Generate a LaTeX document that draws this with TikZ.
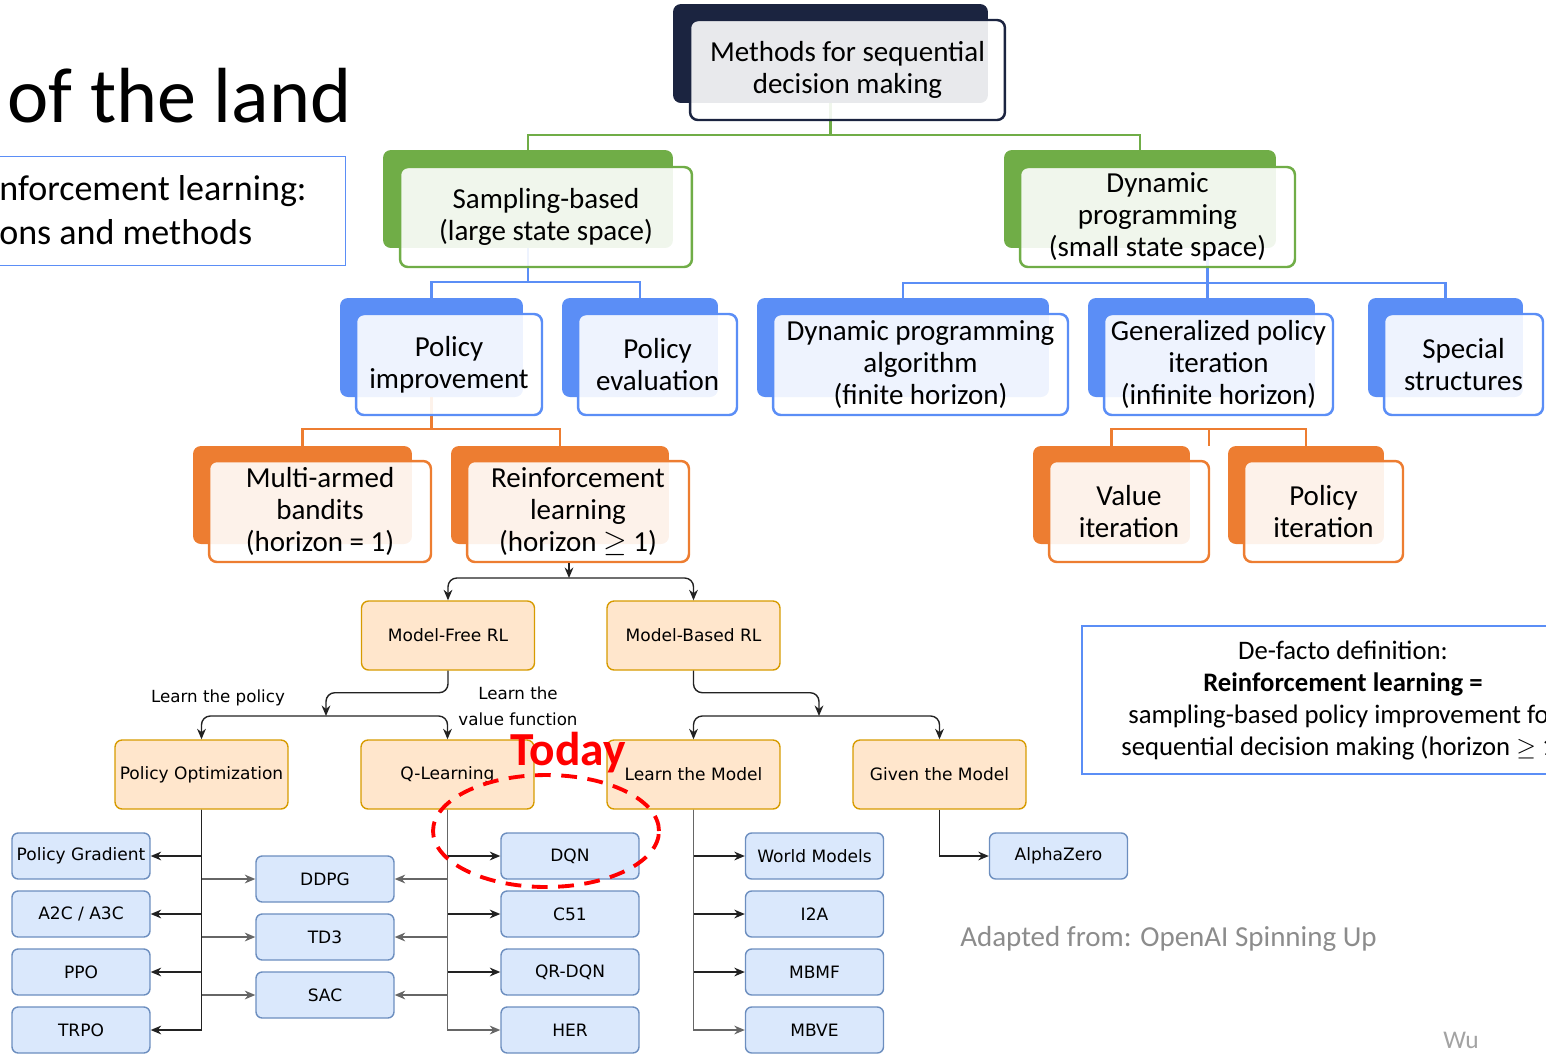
\documentclass[tikz,border=0pt]{standalone}
\usepackage{fontspec}
\setmainfont{Carlito}
\newfontfamily\drawfont{DejaVu Sans}
\usetikzlibrary{arrows.meta, positioning, calc, shapes.geometric}

\definecolor{navydark}{HTML}{1B2440}
\definecolor{treegreen}{HTML}{70AD47}
\definecolor{treeblue}{HTML}{5B8EF6}
\definecolor{treeorange}{HTML}{ED7D31}
\definecolor{rlfill}{HTML}{FFE6CC}
\definecolor{rlline}{HTML}{D79B00}
\definecolor{algofill}{HTML}{DAE8FC}
\definecolor{algoline}{HTML}{6C8EBF}
\definecolor{linkdark}{HTML}{222222}
\definecolor{linkgray}{HTML}{666666}
\definecolor{notegray}{HTML}{8C8C8C}
\definecolor{todayred}{HTML}{FF0000}
\definecolor{defblue}{HTML}{5B8EF6}

\begin{document}
\begin{tikzpicture}[
    x=0.02cm, y=-0.02cm,
    back_box/.style={rounded corners=4.5pt, inner sep=0pt},
    front_box/.style={rounded corners=4.5pt, fill=white, fill opacity=0.9, text opacity=1, line width=1.4pt, align=center, inner sep=0pt, font=\fontsize{16.5}{18.2}\selectfont},
    back_navy/.style={back_box, fill=navydark},
    back_green/.style={back_box, fill=treegreen},
    back_blue/.style={back_box, fill=treeblue},
    back_orange/.style={back_box, fill=treeorange},
    front_navy/.style={front_box, draw=navydark},
    front_green/.style={front_box, draw=treegreen},
    front_blue/.style={front_box, draw=treeblue},
    front_orange/.style={front_box, draw=treeorange},
    tree_link/.style={line width=1.3pt},
    rl_node/.style={draw=rlline, fill=rlfill, line width=0.8pt, rounded corners=4pt, minimum width=3.46cm, minimum height=1.38cm, inner sep=2pt, font=\drawfont\fontsize{9.7}{12}\selectfont},
    algo_node/.style={draw=algoline, fill=algofill, line width=0.8pt, rounded corners=3.5pt, minimum width=2.76cm, minimum height=0.92cm, inner sep=2pt, font=\drawfont\fontsize{9.7}{12}\selectfont},
    link_arrow/.style={draw=linkdark, line width=0.8pt, -{Stealth[length=6pt, width=5pt]}},
    gray_arrow/.style={link_arrow, draw=linkgray},
    link_label/.style={font=\drawfont\fontsize{9.5}{14.8}\selectfont, align=center},
    def_text/.style={anchor=base, font=\fontsize{15.2}{18.2}\selectfont}
]
\useasboundingbox (0,0) rectangle (1546,1056);

% SLIDE TITLE AND TOPIC BOX (cut at the left edge)
\node[anchor=base west, inner sep=0pt, font=\fontsize{44.5}{50}\selectfont] (slide_title) at (7,122) {of the land};
\node[draw=defblue, line width=0.6pt, anchor=north east, minimum width=7.0cm, minimum height=2.18cm] (topic_box) at (346,156) {};
\node[anchor=base west, inner sep=0pt, font=\fontsize{20.5}{26}\selectfont] (topic_l1) at (-1,200) {nforcement learning:};
\node[anchor=base west, inner sep=0pt, font=\fontsize{20.5}{26}\selectfont] (topic_l2) at (-1,244) {ons and methods};

% BACK PLATES OF THE HIERARCHY
\node[back_navy, minimum width=6.3cm, minimum height=1.98cm] (root_b) at (830.5,53.5) {};
\node[back_green, minimum width=5.8cm, minimum height=1.96cm] (samp_b) at (528,199) {};
\node[back_green, minimum width=5.44cm, minimum height=1.96cm] (dp_b) at (1140,199) {};
\node[back_blue, minimum width=3.66cm, minimum height=1.98cm] (pimp_b) at (431.5,347.5) {};
\node[back_blue, minimum width=3.12cm, minimum height=1.98cm] (peval_b) at (640,347.5) {};
\node[back_blue, minimum width=5.84cm, minimum height=1.98cm] (dpalg_b) at (903,347.5) {};
\node[back_blue, minimum width=4.54cm, minimum height=1.98cm] (gpi_b) at (1201.5,347.5) {};
\node[back_blue, minimum width=3.10cm, minimum height=1.98cm] (spec_b) at (1445.5,347.5) {};
\node[back_orange, minimum width=4.38cm, minimum height=1.96cm] (mab_b) at (302.5,495) {};
\node[back_orange, minimum width=4.36cm, minimum height=1.96cm] (rl_b) at (560,495) {};
\node[back_orange, minimum width=3.14cm, minimum height=1.96cm] (vi_b) at (1111.5,495) {};
\node[back_orange, minimum width=3.12cm, minimum height=1.96cm] (pit_b) at (1306,495) {};

% Tree links (drawn under the front boxes)
\draw[tree_link, treegreen] (root_b.south) -- ++(0,32) -| (samp_b.north);
\draw[tree_link, treegreen] (root_b.south) -- ++(0,32) -| (dp_b.north);
\draw[tree_link, treeblue] (samp_b.south) -- ++(0,34) -| (pimp_b.north);
\draw[tree_link, treeblue] (samp_b.south) -- ++(0,34) -| (peval_b.north);
\draw[tree_link, treeblue] ($(gpi_b.north |- dp_b.south)+(6,0)$) -- ($(gpi_b.north)+(6,0)$);
\draw[tree_link, treeblue] (dpalg_b.north) -- ++(0,-15) -| (spec_b.north);
\draw[tree_link, treeorange] (pimp_b.south) -- ++(0,32) -| (mab_b.north);
\draw[tree_link, treeorange] (pimp_b.south) -- ++(0,32) -| (rl_b.north);
\draw[tree_link, treeorange] ($(vi_b.north)!.5!(pit_b.north)$ |- gpi_b.south) -- ($(vi_b.north)!.5!(pit_b.north)+(0,-17)$);
\draw[tree_link, treeorange] (vi_b.north) -- ++(0,-17) -| (pit_b.north);

% FRONT BOXES
\node[front_navy, minimum width=6.3cm, minimum height=2.0cm] (root) at (847.5,70) {Methods for sequential\\decision making};
\node[front_green, minimum width=5.84cm, minimum height=2.0cm] (samp) at (546,217) {Sampling-based\\(large state space)};
\node[front_green, minimum width=5.5cm, minimum height=2.0cm] (dp) at (1157.5,217) {Dynamic\\programming\\(small state space)};
\node[front_blue, minimum width=3.72cm, minimum height=2.02cm] (pimp) at (449,364.5) {Policy\\improvement};
\node[front_blue, minimum width=3.18cm, minimum height=2.02cm] (peval) at (657.5,364.5) {Policy\\evaluation};
\node[front_blue, minimum width=5.9cm, minimum height=2.02cm] (dpalg) at (920.5,364.5) {Dynamic programming\\algorithm\\(finite horizon)};
\node[front_blue, minimum width=4.58cm, minimum height=2.02cm] (gpi) at (1218.5,364.5) {Generalized policy\\iteration\\(infinite horizon)};
\node[front_blue, minimum width=3.18cm, minimum height=2.02cm] (spec) at (1463.5,364.5) {Special\\structures};
\node[front_orange, minimum width=4.44cm, minimum height=2.02cm] (mab) at (320,511.5) {Multi-armed\\bandits\\(horizon = 1)};
\node[front_orange, minimum width=4.44cm, minimum height=2.02cm] (rl) at (578,511.5) {Reinforcement\\learning\\(horizon $\geq$ 1)};
\node[front_orange, minimum width=3.2cm, minimum height=2.02cm] (vi) at (1129,511.5) {Value\\iteration};
\node[front_orange, minimum width=3.18cm, minimum height=2.02cm] (pit) at (1323.5,511.5) {Policy\\iteration};

% RL TAXONOMY
\node[rl_node] (mf) at (448,635.5) {Model-Free RL};
\node[rl_node] (mb) at (693.5,635.5) {Model-Based RL};
\node[rl_node] (po) at (201.5,774.5) {Policy Optimization};
\node[rl_node] (ql) at (447.5,774.5) {Q-Learning};
\node[rl_node] (lm) at (693.5,774.5) {Learn the Model};
\node[rl_node] (gm) at (939.5,774.5) {Given the Model};

% Algorithms
\node[algo_node] (pg) at (81,856) {Policy Gradient};
\node[algo_node] (a2c) at (81,914) {A2C / A3C};
\node[algo_node] (ppo) at (81,972) {PPO};
\node[algo_node] (trpo) at (81,1030) {TRPO};
\node[algo_node] (ddpg) at (325,879) {DDPG};
\node[algo_node] (td3) at (325,937) {TD3};
\node[algo_node] (sac) at (325,995) {SAC};
\node[algo_node] (dqn) at (570,856) {DQN};
\node[algo_node] (c51) at (570,914) {C51};
\node[algo_node] (qrdqn) at (570,972) {QR-DQN};
\node[algo_node] (her) at (570,1030) {HER};
\node[algo_node] (wm) at (814.5,856) {World Models};
\node[algo_node] (i2a) at (814.5,914) {I2A};
\node[algo_node] (mbmf) at (814.5,972) {MBMF};
\node[algo_node] (mbve) at (814.5,1030) {MBVE};
\node[algo_node] (az) at (1058.5,856) {AlphaZero};

% Split points
\coordinate (rl_split) at (569,578);
\coordinate (mf_split) at (326,716);
\coordinate (mb_split) at (819,716);

\draw[link_arrow] (rl_split |- rl.south) -- (rl_split);
\draw[link_arrow, rounded corners=5pt] (rl_split) -| (mf.north);
\draw[link_arrow, rounded corners=5pt] (rl_split) -| (mb.north);
\draw[link_arrow, rounded corners=5pt] (mf.south) -- ++(0,22) -| (mf_split);
\draw[link_arrow, rounded corners=5pt] (mf_split) -| (po.north);
\draw[link_arrow, rounded corners=5pt] (mf_split) -| (ql.north);
\draw[link_arrow, rounded corners=5pt] (mb.south) -- ++(0,22) -| (mb_split);
\draw[link_arrow, rounded corners=5pt] (mb_split) -| (lm.north);
\draw[link_arrow, rounded corners=5pt] (mb_split) -| (gm.north);
\node[link_label] (lbl_policy) at (218,698) {Learn the policy};
\node[link_label] (lbl_value) at (518,706) {Learn the\\value function};

% Policy optimization branch
\draw[gray_arrow] (po.south) |- (ddpg.west);
\draw[gray_arrow] (po.south) |- (td3.west);
\draw[gray_arrow] (po.south) |- (sac.west);
\draw[link_arrow] (po.south) |- (pg.east);
\draw[link_arrow] (po.south) |- (a2c.east);
\draw[link_arrow] (po.south) |- (ppo.east);
\draw[link_arrow] (po.south) |- (trpo.east);

% Q-learning branch
\draw[link_arrow] (ql.south) |- (dqn.west);
\draw[link_arrow] (ql.south) |- (c51.west);
\draw[link_arrow] (ql.south) |- (qrdqn.west);
\draw[gray_arrow] (ql.south) |- (her.west);
\draw[gray_arrow] (ql.south) |- (ddpg.east);
\draw[gray_arrow] (ql.south) |- (td3.east);
\draw[gray_arrow] (ql.south) |- (sac.east);

% Model-based branches
\draw[link_arrow] (lm.south) |- (wm.west);
\draw[link_arrow] (lm.south) |- (i2a.west);
\draw[link_arrow] (lm.south) |- (mbmf.west);
\draw[gray_arrow] (lm.south) |- (mbve.west);
\draw[link_arrow] (gm.south) |- (az.west);

% Highlight
\node[draw=todayred, ellipse, dash pattern=on 9pt off 6pt, line width=2.2pt, minimum width=4.52cm, minimum height=2.24cm] (today_ring) at (546,831) {};
\node[font=\bfseries\fontsize{27}{30}\selectfont, text=todayred, inner sep=0pt] (today_label) at (568,753) {Today};

% DEFINITION BOX AND NOTES
\node[draw=defblue, line width=1.2pt, anchor=north west, minimum width=9.6cm, minimum height=2.96cm] (def_box) at (1081,625) {};
\node[def_text] (def_l1) at (1343,659) {De-facto definition:};
\node[def_text] (def_l2) at (1343,691) {\textbf{Reinforcement learning =}};
\node[def_text, anchor=base west, inner sep=0pt] (def_l3) at (1128,723) {sampling-based policy improvement fo};
\node[def_text, anchor=base west, inner sep=0pt] (def_l4) at (1121,755) {sequential decision making (horizon $\geq$ 1};

\node[anchor=west, inner sep=0pt, text=notegray, font=\fontsize{16.5}{20}\selectfont] (source_note) at (960,939) {Adapted from: OpenAI Spinning Up};
\node[inner sep=0pt, text=notegray!80, font=\fontsize{14.5}{17}\selectfont] (author_note) at (1461,1040) {Wu};

\end{tikzpicture}
\end{document}
